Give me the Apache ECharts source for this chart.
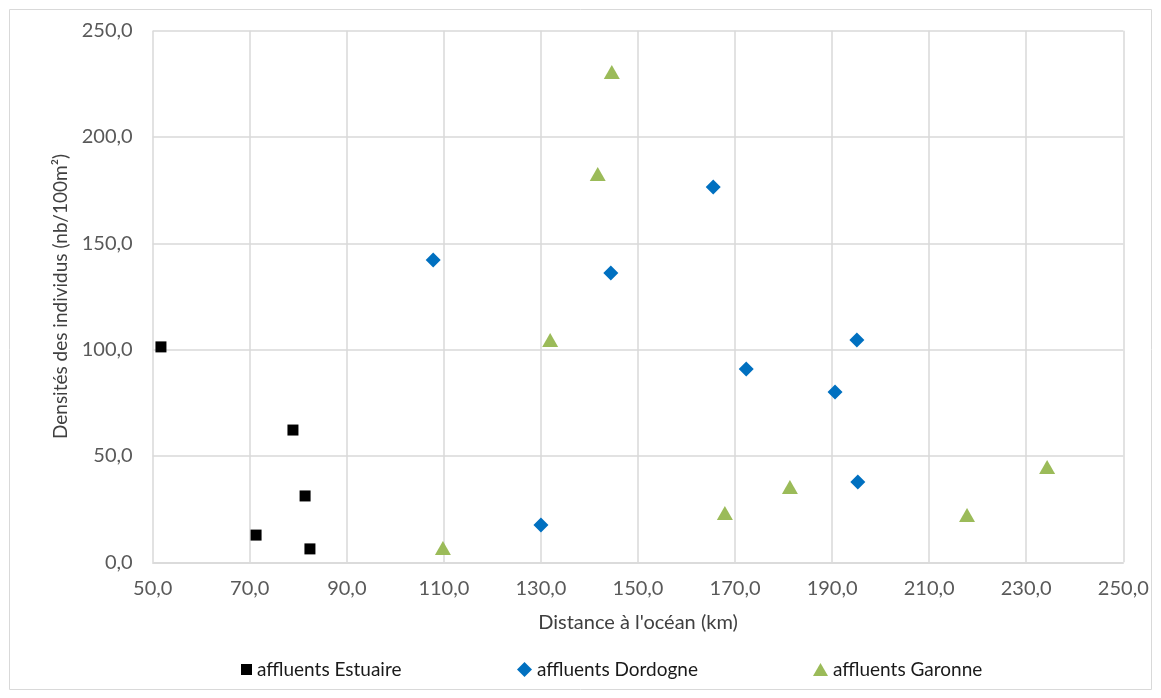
<!DOCTYPE html>
<html><head><meta charset="utf-8">
<script src="https://cdn.jsdelivr.net/npm/echarts@6/dist/echarts.min.js"></script>
<style>html,body{margin:0;padding:0;background:#fff}#c{width:1161px;height:698px}</style>
</head><body><div id="c"></div>
<script>
const estuaireX = [51.7, 78.9, 81.4, 71.3, 82.4];
const estuaireY = [101.3, 62.2, 31.2, 12.8, 6.3];
const dordogneX = [107.8, 130.0, 144.4, 165.5, 172.3, 190.6, 195.1, 195.3];
const dordogneY = [142.2, 17.5, 136.1, 176.5, 90.9, 80.1, 104.5, 37.8];
const garonneX = [144.6, 141.7, 131.9, 109.8, 167.9, 181.3, 217.8, 234.3];
const garonneY = [230.6, 182.6, 104.6, 6.7, 23.2, 35.4, 22.2, 44.8];
const seriesNames = ['affluents Estuaire', 'affluents Dordogne', 'affluents Garonne'];
const xTitle = "Distance à l'océan (km)";
const yTitle = 'Densités des individus (nb/100m²)';

const zip = (xs, ys) => xs.map((x, i) => [x, ys[i]]);
const font = 'Lato, "Open Sans", sans-serif';
const fmt = v => v.toFixed(1).replace('.', ',');

const chart = echarts.init(document.getElementById('c'));
const legendBase = {
  textStyle: {fontFamily: font, fontSize: 19, color: '#1a1a1a'},
  itemWidth: 11, itemHeight: 11, itemGap: 8, top: 655
};
chart.setOption({
  animation: false,
  graphic: [{type: 'rect', shape: {x: 9.5, y: 9.5, width: 1142, height: 680},
    style: {fill: 'none', stroke: '#d9d9d9', lineWidth: 1}}],
  grid: {left: 152.7, top: 30.7, right: 1161 - 1123.3, bottom: 698 - 562.3, containLabel: false},
  xAxis: {
    type: 'value', min: 50, max: 250, interval: 20,
    name: xTitle, nameLocation: 'middle', nameGap: 50,
    nameTextStyle: {fontFamily: font, fontSize: 20, color: '#404040'},
    axisLine: {show: true, lineStyle: {color: '#d9d9d9', width: 1.5}},
    axisTick: {show: false},
    splitLine: {show: true, lineStyle: {color: '#d9d9d9', width: 1.5}},
    axisLabel: {formatter: fmt, fontFamily: font, fontSize: 20, color: '#595959', margin: 16}
  },
  yAxis: {
    type: 'value', min: 0, max: 250, interval: 50,
    name: yTitle, nameLocation: 'middle', nameGap: 73, nameRotate: 90,
    nameTextStyle: {fontFamily: font, fontSize: 19, color: '#404040'},
    axisLine: {show: false},
    axisTick: {show: false},
    splitLine: {show: true, lineStyle: {color: '#d9d9d9', width: 1.5}},
    axisLabel: {formatter: fmt, fontFamily: font, fontSize: 20, color: '#595959', margin: 20}
  },
  legend: [
    Object.assign({}, legendBase, {left: 236, data: [{name: seriesNames[0], icon: 'rect'}]}),
    Object.assign({}, legendBase, {left: 512, itemWidth: 15, itemHeight: 15, data: [{name: seriesNames[1], icon: 'diamond'}]}),
    Object.assign({}, legendBase, {left: 808, itemWidth: 15, itemHeight: 13, data: [{name: seriesNames[2], icon: 'triangle'}]})
  ],
  series: [
    {name: seriesNames[0], type: 'scatter', symbol: 'rect', symbolSize: 11,
     itemStyle: {color: '#000000', opacity: 1}, data: zip(estuaireX, estuaireY)},
    {name: seriesNames[1], type: 'scatter', symbol: 'diamond', symbolSize: 15,
     itemStyle: {color: '#0070C0', opacity: 1}, data: zip(dordogneX, dordogneY)},
    {name: seriesNames[2], type: 'scatter', symbol: 'triangle', symbolSize: [16, 14],
     itemStyle: {color: '#9BBB59', opacity: 1}, data: zip(garonneX, garonneY)}
  ]
});
</script></body></html>
